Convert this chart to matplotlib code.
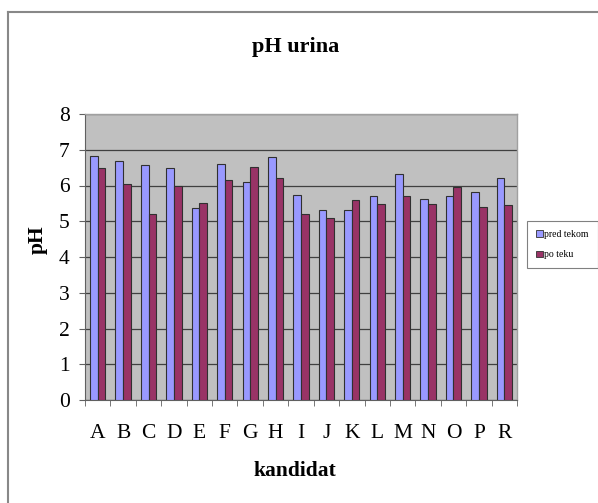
import matplotlib
matplotlib.use("Agg")
import matplotlib.pyplot as plt
import numpy as np
from matplotlib.lines import Line2D
from matplotlib.patches import Patch

categories = ["A", "B", "C", "D", "E", "F", "G", "H", "I", "J", "K", "L", "M", "N", "O", "P", "R"]
pred_tekom = [6.83, 6.69, 6.58, 6.49, 5.36, 6.61, 6.10, 6.81, 5.74, 5.32, 5.31, 5.71, 6.32, 5.62, 5.71, 5.83, 6.20]
po_teku = [6.48, 6.03, 5.19, 6.00, 5.52, 6.16, 6.52, 6.20, 5.19, 5.09, 5.59, 5.48, 5.72, 5.49, 5.97, 5.40, 5.46]
series_names = ["pred tekom", "po teku"]
yticks = [0, 1, 2, 3, 4, 5, 6, 7, 8]

plt.rcParams['font.family'] = ['Liberation Serif', 'DejaVu Serif']

W, H = 598, 503
fig = plt.figure(figsize=(W / 100, H / 100), dpi=100)
fig.patch.set_facecolor("white")

# outer chart frame (left and top edges visible)
fig.add_artist(Line2D([8 / W, 8 / W], [0, 1 - 12 / H], transform=fig.transFigure, color="#888888", lw=1.5))
fig.add_artist(Line2D([8 / W, 1], [1 - 12 / H, 1 - 12 / H], transform=fig.transFigure, color="#888888", lw=1.5))

ax = fig.add_axes([85 / W, 1 - 400 / H, (517 - 85) / W, (400 - 114) / H])
ax.set_facecolor("#C0C0C0")

x = np.arange(len(categories))
w = 0.3
ax.bar(x - w / 2, pred_tekom, w, color="#9999FF", edgecolor="#303030", linewidth=0.8, zorder=3)
ax.bar(x + w / 2, po_teku, w, color="#993366", edgecolor="#303030", linewidth=0.8, zorder=3)

ax.set_xlim(-0.5, len(categories) - 0.5)
ax.set_ylim(0, 8)
ax.set_yticks(yticks)
ax.set_yticklabels([str(t) for t in yticks], fontsize=15.5)
ax.yaxis.grid(True, color="#404040", lw=0.9, zorder=1)
ax.set_axisbelow(True)

ax.set_xticks(x)
ax.set_xticklabels(categories, fontsize=15.5)
ax.set_xticks(np.arange(-0.5, len(categories)), minor=True)
ax.tick_params(axis="x", which="major", length=0, pad=17)
ax.tick_params(axis="x", which="minor", length=4, color="#606060", direction="out")
ax.tick_params(axis="y", length=4, color="#606060", direction="out", pad=7)

for s in ["top", "right"]:
    ax.spines[s].set_color("#A0A0A0")
    ax.spines[s].set_linewidth(1)
ax.spines["left"].set_color("#606060")
ax.spines["bottom"].set_color("#606060")

fig.text(296 / W, 1 - 47 / H, "pH urina", ha="center", va="center", fontsize=16, fontweight="bold")
fig.text(38 / W, 1 - 240 / H, "pH", ha="center", va="center", fontsize=15.5, fontweight="bold", rotation=90)
fig.text(295 / W, 1 - 471 / H, "kandidat", ha="center", va="center", fontsize=15.5, fontweight="bold")

handles = [Patch(facecolor="#9999FF", edgecolor="#303030", linewidth=0.6),
           Patch(facecolor="#993366", edgecolor="#303030", linewidth=0.6)]
leg = fig.legend(handles, series_names, loc="upper left", bbox_to_anchor=(527 / W, 1 - 221 / H),
                 fontsize=7, frameon=True, fancybox=False, edgecolor="#606060",
                 handlelength=0.7, handleheight=0.7, handletextpad=0.2, labelspacing=1.2,
                 borderpad=0.9, borderaxespad=0)
leg.get_frame().set_linewidth(0.8)

fig.savefig("out.png", dpi=100)
